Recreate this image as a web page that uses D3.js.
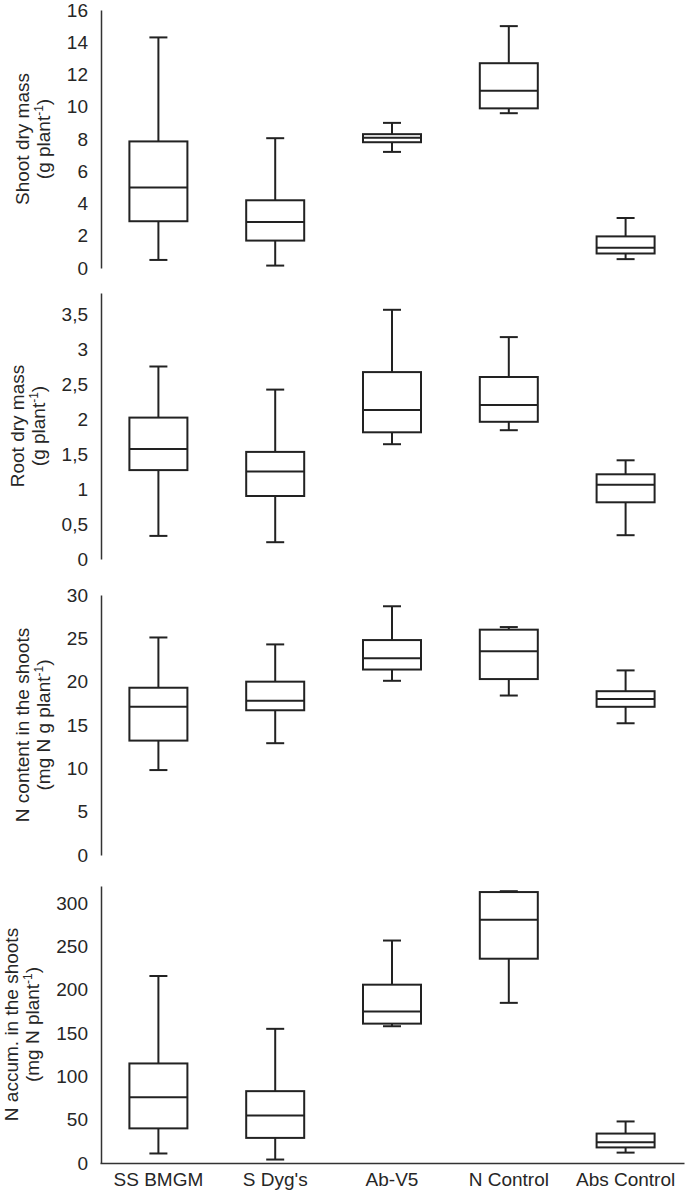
<!DOCTYPE html>
<html>
<head>
<meta charset="utf-8">
<script src="https://cdn.jsdelivr.net/npm/d3@7"></script>
<style>
  body { margin: 0; background: #fff; }
  svg text { font-family: "Liberation Sans", Arial, sans-serif; fill: #262626; }
</style>
</head>
<body>
<div id="chart"></div>
<script>
const groups = ["SS BMGM", "S Dyg's", "Ab-V5", "N Control", "Abs Control"];

// each box: [min, q1, median, q3, max]
const shootMass = [
  [0.5, 2.9, 5.0, 7.85, 14.3],
  [0.15, 1.7, 2.85, 4.2, 8.05],
  [7.2, 7.8, 8.07, 8.3, 9.0],
  [9.6, 9.9, 11.0, 12.7, 15.0],
  [0.55, 0.9, 1.25, 1.96, 3.1]
];
const rootMass = [
  [0.33, 1.27, 1.57, 2.02, 2.75],
  [0.24, 0.9, 1.25, 1.53, 2.42],
  [1.64, 1.81, 2.13, 2.67, 3.56],
  [1.84, 1.96, 2.2, 2.6, 3.17],
  [0.34, 0.81, 1.06, 1.21, 1.41]
];
const nContent = [
  [9.8, 13.2, 17.1, 19.3, 25.1],
  [12.9, 16.7, 17.8, 20.0, 24.3],
  [20.1, 21.4, 22.7, 24.8, 28.7],
  [18.4, 20.3, 23.5, 26.0, 26.3],
  [15.2, 17.1, 18.0, 18.9, 21.3]
];
const nAccum = [
  [11, 40, 76, 115, 216],
  [4, 29, 55, 83, 155],
  [158, 161, 175, 206, 257],
  [185, 236, 281, 313, 314],
  [12, 18, 24, 34, 48]
];

const shootTicks = [0, 2, 4, 6, 8, 10, 12, 14, 16];
const rootTicks = [0, 0.5, 1, 1.5, 2, 2.5, 3, 3.5];
const contentTicks = [0, 5, 10, 15, 20, 25, 30];
const accumTicks = [0, 50, 100, 150, 200, 250, 300];

const panels = [
  { data: shootMass, ticks: shootTicks, max: 16,  top: 10,  bottom: 268,  title: "Shoot dry mass",          unit: "(g" },
  { data: rootMass,  ticks: rootTicks,  max: 3.8, top: 293, bottom: 559,  title: "Root dry mass",           unit: "(g" },
  { data: nContent,  ticks: contentTicks, max: 30, top: 595, bottom: 855, title: "N content in the shoots", unit: "(mg N g" },
  { data: nAccum,    ticks: accumTicks, max: 320, top: 886, bottom: 1163, title: "N accum. in the shoots", unit: "(mg N" }
];

const W = 685, H = 1199;
const axisX = 101;
const boxW = 58, capW = 18;

const fmt = d3.formatLocale({ decimal: ",", thousands: ".", grouping: [3], currency: ["", ""] }).format("~g");

const svg = d3.select("#chart").append("svg")
  .attr("width", W)
  .attr("height", H);

const x = d3.scaleBand()
  .domain(groups)
  .range([100, 684]);

panels.forEach((p, pi) => {
  const y = d3.scaleLinear()
    .domain([0, p.max])
    .range([p.bottom, p.top]);

  const ax = svg.append("g")
    .attr("transform", `translate(${axisX},0)`)
    .call(d3.axisLeft(y).tickValues(p.ticks).tickFormat(fmt).tickSize(0).tickPadding(13))
    .attr("font-size", 19)
    .attr("font-family", null);
  ax.select(".domain").attr("stroke", "#333").attr("stroke-width", 1.5);
  ax.selectAll(".tick text").attr("fill", "#262626");

  // axis title sits left of the widest tick label
  const left = axisX + d3.min(ax.selectAll(".tick text").nodes(), n => n.getBBox().x);
  const t = svg.append("text")
    .attr("transform", `translate(${left - 38},${(p.top + p.bottom) / 2}) rotate(-90)`)
    .attr("text-anchor", "middle")
    .attr("font-size", 19);
  t.append("tspan").attr("x", 0).text(p.title);
  t.append("tspan").attr("x", 0).attr("dy", 21).text(p.unit + " plant");
  t.append("tspan").attr("font-size", 12).attr("dy", -7).text("-1");
  t.append("tspan").attr("dy", 7).text(")");

  const g = svg.append("g")
    .attr("fill", "none")
    .attr("stroke", "#222")
    .attr("stroke-width", 2);

  const box = g.selectAll("g")
    .data(p.data)
    .join("g")
    .attr("transform", (d, i) => `translate(${x(groups[i]) + x.bandwidth() / 2},0)`);

  box.append("line")
    .attr("y1", d => y(d[3])).attr("y2", d => y(d[4]));
  box.append("line")
    .attr("y1", d => y(d[1])).attr("y2", d => y(d[0]));
  box.append("line")
    .attr("x1", -capW / 2).attr("x2", capW / 2)
    .attr("y1", d => y(d[4])).attr("y2", d => y(d[4]));
  box.append("line")
    .attr("x1", -capW / 2).attr("x2", capW / 2)
    .attr("y1", d => y(d[0])).attr("y2", d => y(d[0]));
  box.append("rect")
    .attr("x", -boxW / 2)
    .attr("width", boxW)
    .attr("y", d => y(d[3]))
    .attr("height", d => y(d[1]) - y(d[3]))
    .attr("fill", "#fff");
  box.append("line")
    .attr("x1", -boxW / 2).attr("x2", boxW / 2)
    .attr("y1", d => y(d[2])).attr("y2", d => y(d[2]));

  if (pi === panels.length - 1) {
    const xa = svg.append("g")
      .attr("transform", `translate(0,${p.bottom})`)
      .call(d3.axisBottom(x).tickSize(0).tickPadding(10))
      .attr("font-size", 19)
      .attr("font-family", null);
    xa.select(".domain").attr("stroke", "#333").attr("stroke-width", 1.5);
    xa.selectAll(".tick text").attr("fill", "#262626");
  }
});
</script>
</body>
</html>
